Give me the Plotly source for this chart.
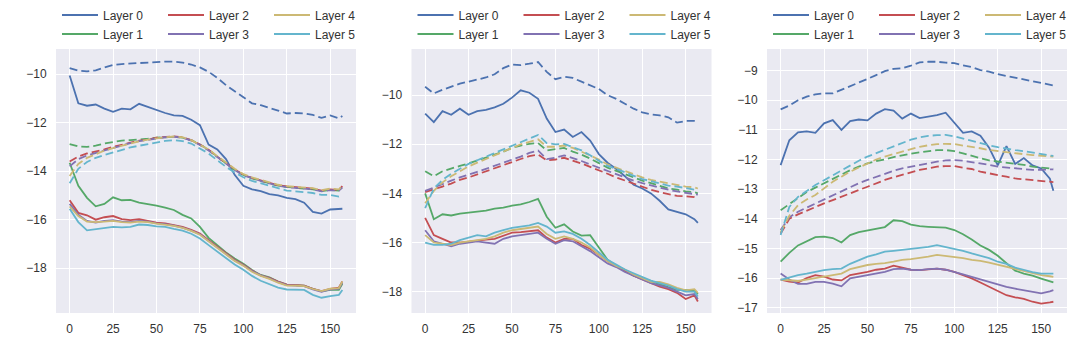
import plotly.graph_objects as go

# ---------------- data ----------------
steps = [0, 5, 10, 15, 20, 25, 30, 35, 40, 45, 50, 55, 60, 65, 70, 75, 80,
         85, 90, 95, 100, 105, 110, 115, 120, 125, 130, 135, 140, 145, 150, 155, 157]

layer_names = ["Layer 0", "Layer 1", "Layer 2", "Layer 3", "Layer 4", "Layer 5"]

# ---- panel 1 ----
p1_solid_l0 = [-10.05, -11.2, -11.3, -11.25, -11.42, -11.55, -11.42, -11.45, -11.22, -11.35, -11.45,
               -11.6, -11.7, -11.72, -11.88, -12.1, -12.9, -13.1, -13.5, -14.15, -14.6, -14.75,
               -14.82, -14.95, -15.0, -15.1, -15.15, -15.3, -15.68, -15.75, -15.58, -15.55, -15.55]
p1_solid_l1 = [-13.65, -14.6, -15.1, -15.45, -15.35, -15.08, -15.2, -15.18, -15.3, -15.35, -15.42,
               -15.5, -15.6, -15.8, -15.95, -16.3, -16.75, -17.05, -17.35, -17.6, -17.82, -18.08,
               -18.28, -18.38, -18.55, -18.68, -18.7, -18.72, -18.85, -18.96, -18.9, -18.9, -18.65]
p1_solid_l2 = [-15.2, -15.72, -15.82, -16.0, -15.9, -15.85, -15.98, -16.02, -15.98, -16.05, -16.12,
               -16.15, -16.22, -16.3, -16.42, -16.57, -16.85, -17.12, -17.4, -17.65, -17.86, -18.1,
               -18.3, -18.4, -18.55, -18.68, -18.7, -18.72, -18.85, -18.95, -18.85, -18.8, -18.55]
p1_solid_l3 = [-15.35, -15.8, -16.05, -16.12, -16.05, -16.02, -16.08, -16.1, -16.05, -16.08, -16.15,
               -16.18, -16.25, -16.33, -16.45, -16.6, -16.88, -17.15, -17.42, -17.68, -17.88, -18.12,
               -18.3, -18.42, -18.58, -18.7, -18.72, -18.74, -18.88, -18.98, -18.88, -18.85, -18.6]
p1_solid_l4 = [-15.45, -15.85, -16.08, -16.1, -16.08, -16.05, -16.1, -16.12, -16.08, -16.1, -16.16,
               -16.2, -16.26, -16.34, -16.46, -16.62, -16.9, -17.17, -17.44, -17.7, -17.9, -18.15,
               -18.32, -18.44, -18.6, -18.72, -18.72, -18.74, -18.86, -18.95, -18.85, -18.82, -18.55]
p1_solid_l5 = [-15.55, -16.1, -16.44, -16.4, -16.35, -16.3, -16.32, -16.3, -16.2, -16.22, -16.28,
               -16.3, -16.38, -16.45, -16.58, -16.78, -17.05, -17.32, -17.6, -17.85, -18.07, -18.32,
               -18.52, -18.65, -18.8, -18.88, -18.9, -18.9, -19.1, -19.22, -19.15, -19.1, -18.9]
p1_dash_l0 = [-9.75, -9.85, -9.88, -9.84, -9.72, -9.62, -9.58, -9.56, -9.52, -9.5, -9.48,
              -9.48, -9.48, -9.52, -9.6, -9.72, -9.9, -10.15, -10.45, -10.7, -10.95, -11.2,
              -11.28, -11.38, -11.5, -11.62, -11.6, -11.62, -11.68, -11.8, -11.7, -11.82, -11.72]
p1_dash_l1 = [-12.88, -12.98, -13.0, -12.95, -12.86, -12.8, -12.74, -12.72, -12.7, -12.66, -12.62,
              -12.6, -12.58, -12.62, -12.72, -12.9, -13.12, -13.4, -13.68, -13.95, -14.15, -14.3,
              -14.4, -14.5, -14.6, -14.65, -14.68, -14.7, -14.75, -14.82, -14.78, -14.8, -14.7]
p1_dash_l2 = [-13.6, -13.4, -13.27, -13.2, -13.1, -13.0, -12.9, -12.82, -12.74, -12.7, -12.62,
              -12.58, -12.56, -12.6, -12.72, -12.9, -13.12, -13.4, -13.68, -13.92, -14.15, -14.28,
              -14.38, -14.48, -14.58, -14.63, -14.66, -14.68, -14.72, -14.8, -14.75, -14.78, -14.62]
p1_dash_l3 = [-13.8, -13.5, -13.35, -13.25, -13.12, -13.02, -12.92, -12.84, -12.76, -12.7, -12.64,
              -12.6, -12.58, -12.62, -12.74, -12.92, -13.15, -13.42, -13.7, -13.95, -14.17, -14.3,
              -14.4, -14.5, -14.6, -14.66, -14.68, -14.72, -14.75, -14.83, -14.78, -14.8, -14.68]
p1_dash_l4 = [-14.2, -13.7, -13.45, -13.3, -13.15, -13.05, -12.95, -12.85, -12.77, -12.7, -12.64,
              -12.6, -12.57, -12.6, -12.72, -12.9, -13.1, -13.38, -13.65, -13.9, -14.12, -14.26,
              -14.36, -14.46, -14.56, -14.62, -14.64, -14.66, -14.7, -14.78, -14.72, -14.75, -14.6]
p1_dash_l5 = [-14.5, -13.9, -13.62, -13.45, -13.33, -13.22, -13.12, -13.02, -12.95, -12.88, -12.8,
              -12.75, -12.72, -12.76, -12.86, -13.05, -13.27, -13.55, -13.82, -14.05, -14.25, -14.4,
              -14.5, -14.62, -14.72, -14.8, -14.83, -14.86, -14.9, -14.98, -14.98, -15.05, -15.0]

# ---- panel 2 ----
p2_solid_l0 = [-10.75, -11.1, -10.65, -10.8, -10.55, -10.8, -10.65, -10.6, -10.5, -10.35, -10.1,
               -9.8, -9.9, -10.15, -10.95, -11.5, -11.4, -11.7, -11.5, -11.85, -12.4, -12.75,
               -13.0, -13.3, -13.65, -13.8, -14.0, -14.3, -14.65, -14.75, -14.85, -15.05, -15.2]
p2_solid_l1 = [-14.0, -15.05, -14.85, -14.9, -14.82, -14.78, -14.72, -14.7, -14.62, -14.58, -14.5,
               -14.45, -14.35, -14.22, -14.95, -15.4, -15.26, -15.55, -15.72, -15.7, -16.2, -16.7,
               -16.95, -17.15, -17.35, -17.45, -17.58, -17.68, -17.82, -17.93, -17.95, -17.95, -18.1]
p2_solid_l2 = [-15.0, -15.7, -15.85, -16.0, -16.0, -15.95, -15.92, -15.88, -15.85, -15.72, -15.6,
               -15.58, -15.55, -15.5, -15.8, -16.0, -15.85, -15.85, -16.1, -16.25, -16.5, -16.75,
               -16.95, -17.15, -17.35, -17.5, -17.65, -17.8, -17.9, -18.05, -18.3, -18.15, -18.4]
p2_solid_l3 = [-15.5, -15.95, -16.05, -16.15, -16.05, -16.0, -15.95, -16.0, -16.05, -15.85, -15.75,
               -15.7, -15.65, -15.6, -15.85, -16.05, -15.9, -15.95, -16.15, -16.35, -16.6, -16.85,
               -17.0, -17.2, -17.35, -17.5, -17.65, -17.75, -17.85, -18.0, -18.15, -18.1, -18.3]
p2_solid_l4 = [-15.7, -16.0, -16.05, -16.1, -16.0, -15.95, -15.9, -15.85, -15.75, -15.6, -15.5,
               -15.45, -15.4, -15.35, -15.65, -15.85, -15.75, -15.85, -16.0, -16.2, -16.5, -16.75,
               -16.95, -17.1, -17.3, -17.45, -17.6, -17.6, -17.7, -17.85, -17.95, -17.9, -18.05]
p2_solid_l5 = [-16.0, -16.1, -16.1, -16.05, -15.9, -15.8, -15.7, -15.75, -15.6, -15.5, -15.4,
               -15.35, -15.3, -15.2, -15.35, -15.6, -15.55, -15.65, -15.85, -16.1, -16.4, -16.7,
               -16.9, -17.1, -17.25, -17.4, -17.55, -17.65, -17.75, -17.9, -18.0, -18.0, -18.2]
p2_dash_l0 = [-9.66, -9.93, -9.78, -9.65, -9.53, -9.45, -9.38, -9.28, -9.15, -8.9, -8.75,
              -8.78, -8.72, -8.65, -9.05, -9.35, -9.25, -9.3, -9.45, -9.6, -9.75, -10.0,
              -10.15, -10.35, -10.55, -10.7, -10.78, -10.82, -10.9, -11.12, -11.05, -11.05, -11.08]
p2_dash_l1 = [-13.1, -13.3, -13.1, -12.98, -12.88, -12.78, -12.65, -12.55, -12.42, -12.3, -12.15,
              -12.05, -11.98, -11.95, -12.25, -12.2, -12.15, -12.3, -12.42, -12.58, -12.75, -12.95,
              -13.08, -13.22, -13.35, -13.48, -13.58, -13.68, -13.8, -13.85, -13.92, -13.95, -14.0]
p2_dash_l2 = [-13.95, -13.85, -13.72, -13.6, -13.45, -13.35, -13.22, -13.1, -12.98, -12.85, -12.72,
              -12.6, -12.48, -12.42, -12.65, -12.62, -12.55, -12.65, -12.78, -12.92, -13.05, -13.2,
              -13.35, -13.48, -13.62, -13.75, -13.85, -13.95, -14.02, -14.1, -14.12, -14.15, -14.2]
p2_dash_l3 = [-13.9, -13.75, -13.6, -13.48, -13.35, -13.25, -13.12, -13.0, -12.88, -12.75, -12.62,
              -12.5, -12.35, -12.25, -12.6, -12.55, -12.45, -12.55, -12.68, -12.82, -12.95, -13.1,
              -13.22, -13.35, -13.48, -13.58, -13.68, -13.78, -13.85, -13.92, -13.98, -14.02, -14.05]
p2_dash_l4 = [-14.4, -13.9, -13.55, -13.3, -13.1, -12.9, -12.75, -12.6, -12.45, -12.3, -12.15,
              -12.0, -11.9, -11.8, -12.1, -12.1, -12.05, -12.15, -12.3, -12.45, -12.62, -12.82,
              -12.95, -13.1, -13.22, -13.35, -13.45, -13.52, -13.6, -13.65, -13.72, -13.75, -13.8]
p2_dash_l5 = [-14.6, -13.8, -13.45, -13.2, -13.0, -12.8, -12.65, -12.5, -12.35, -12.2, -12.05,
              -11.9, -11.75, -11.62, -11.95, -12.0, -11.98, -12.1, -12.25, -12.45, -12.65, -12.88,
              -13.0, -13.15, -13.3, -13.42, -13.5, -13.58, -13.68, -13.72, -13.78, -13.85, -13.9]

# ---- panel 3 ----
p3_solid_l0 = [-12.19, -11.35, -11.08, -11.05, -11.1, -10.78, -10.67, -11.0, -10.7, -10.65, -10.68,
               -10.45, -10.3, -10.35, -10.62, -10.45, -10.6, -10.55, -10.5, -10.42, -10.75, -11.1,
               -11.05, -11.2, -11.6, -12.2, -11.55, -12.15, -11.95, -12.2, -12.3, -12.65, -13.05]
p3_solid_l1 = [-15.45, -15.15, -14.9, -14.75, -14.62, -14.6, -14.65, -14.8, -14.55, -14.45, -14.4,
               -14.35, -14.28, -14.05, -14.08, -14.2, -14.25, -14.27, -14.28, -14.3, -14.38, -14.52,
               -14.7, -14.9, -15.05, -15.25, -15.5, -15.75, -15.85, -15.92, -16.02, -16.1, -16.15]
p3_solid_l2 = [-16.05, -16.12, -16.15, -16.0, -15.9, -15.95, -16.05, -16.08, -15.9, -15.85, -15.79,
               -15.72, -15.68, -15.58, -15.65, -15.72, -15.73, -15.7, -15.68, -15.72, -15.79, -15.9,
               -16.01, -16.15, -16.3, -16.45, -16.58, -16.65, -16.7, -16.8, -16.86, -16.82, -16.8]
p3_solid_l3 = [-15.85, -16.05, -16.2, -16.2, -16.13, -16.13, -16.19, -16.28, -16.01, -15.95, -15.9,
               -15.85, -15.79, -15.7, -15.68, -15.72, -15.73, -15.7, -15.68, -15.72, -15.79, -15.88,
               -15.96, -16.05, -16.13, -16.22, -16.3, -16.36, -16.41, -16.48, -16.52, -16.45, -16.41]
p3_solid_l4 = [-16.05, -16.08, -16.1, -16.05, -16.0, -15.95, -15.9, -15.85, -15.7, -15.62, -15.56,
               -15.52, -15.5, -15.45, -15.39, -15.36, -15.33, -15.28, -15.22, -15.25, -15.28, -15.33,
               -15.39, -15.42, -15.48, -15.55, -15.62, -15.7, -15.78, -15.85, -15.9, -15.94, -15.96]
p3_solid_l5 = [-16.06, -15.98, -15.9, -15.85, -15.78, -15.73, -15.7, -15.68, -15.52, -15.4, -15.28,
               -15.2, -15.11, -15.08, -15.05, -15.02, -15.0, -14.95, -14.89, -14.95, -15.0, -15.08,
               -15.17, -15.25, -15.33, -15.45, -15.52, -15.65, -15.73, -15.8, -15.85, -15.86, -15.85]
p3_dash_l0 = [-10.31, -10.18, -10.0, -9.88, -9.8, -9.77, -9.77, -9.65, -9.54, -9.4, -9.28,
              -9.15, -9.02, -8.94, -8.92, -8.83, -8.72, -8.7, -8.7, -8.73, -8.75, -8.82,
              -8.88, -8.98, -9.03, -9.12, -9.18, -9.25, -9.3, -9.37, -9.42, -9.48, -9.5]
p3_dash_l1 = [-13.71, -13.5, -13.3, -13.1, -12.95, -12.8, -12.64, -12.5, -12.36, -12.24, -12.13,
              -12.05, -12.0, -11.92, -11.85, -11.8, -11.76, -11.72, -11.68, -11.68, -11.72, -11.79,
              -11.88, -11.96, -12.03, -12.07, -12.1, -12.13, -12.18, -12.24, -12.28, -12.3, -12.3]
p3_dash_l2 = [-14.5, -14.0, -13.85, -13.72, -13.59, -13.48, -13.37, -13.25, -13.14, -13.03, -12.92,
              -12.8, -12.69, -12.6, -12.52, -12.44, -12.35, -12.3, -12.24, -12.22, -12.22, -12.28,
              -12.32, -12.41, -12.46, -12.52, -12.58, -12.64, -12.67, -12.69, -12.72, -12.75, -12.76]
p3_dash_l3 = [-14.38, -13.95, -13.76, -13.62, -13.48, -13.34, -13.2, -13.06, -12.92, -12.8, -12.69,
              -12.58, -12.47, -12.38, -12.3, -12.24, -12.19, -12.12, -12.07, -12.03, -12.02, -12.04,
              -12.08, -12.13, -12.18, -12.24, -12.27, -12.3, -12.32, -12.35, -12.35, -12.33, -12.33]
p3_dash_l4 = [-14.45, -13.9, -13.54, -13.35, -13.2, -12.98, -12.75, -12.58, -12.41, -12.27, -12.13,
              -12.0, -11.9, -11.82, -11.74, -11.65, -11.57, -11.52, -11.48, -11.47, -11.48, -11.53,
              -11.57, -11.62, -11.68, -11.72, -11.76, -11.79, -11.82, -11.85, -11.88, -11.9, -11.9]
p3_dash_l5 = [-14.55, -13.6, -13.26, -13.05, -12.86, -12.7, -12.53, -12.36, -12.19, -12.04, -11.9,
              -11.79, -11.68, -11.56, -11.45, -11.33, -11.25, -11.2, -11.18, -11.17, -11.22, -11.3,
              -11.38, -11.45, -11.52, -11.58, -11.64, -11.68, -11.72, -11.76, -11.8, -11.85, -11.88]

panels = [
    dict(solid=[p1_solid_l0, p1_solid_l1, p1_solid_l2, p1_solid_l3, p1_solid_l4, p1_solid_l5],
         dash=[p1_dash_l0, p1_dash_l1, p1_dash_l2, p1_dash_l3, p1_dash_l4, p1_dash_l5],
         yrange=[-19.85, -8.96], ytick=[-18, -16, -14, -12, -10]),
    dict(solid=[p2_solid_l0, p2_solid_l1, p2_solid_l2, p2_solid_l3, p2_solid_l4, p2_solid_l5],
         dash=[p2_dash_l0, p2_dash_l1, p2_dash_l2, p2_dash_l3, p2_dash_l4, p2_dash_l5],
         yrange=[-18.87, -8.12], ytick=[-18, -16, -14, -12, -10]),
    dict(solid=[p3_solid_l0, p3_solid_l1, p3_solid_l2, p3_solid_l3, p3_solid_l4, p3_solid_l5],
         dash=[p3_dash_l0, p3_dash_l1, p3_dash_l2, p3_dash_l3, p3_dash_l4, p3_dash_l5],
         yrange=[-17.18, -8.27], ytick=[-17, -16, -15, -14, -13, -12, -11, -10, -9]),
]

x_ticks = [0, 25, 50, 75, 100, 125, 150]

# ---------------- style ----------------
colors = ["#4C72B0", "#55A868", "#C44E52", "#8172B2", "#CCB974", "#64B5CD"]
W, H = 1080, 348
axis_left_px = [56, 411.5, 767]
axis_w_px = 300
plot_top_px, plot_bot_px = 49, 313
font_family = "Liberation Sans, Arial, sans-serif"
text_color = "#333333"

fig = go.Figure()
layout = dict(
    width=W, height=H,
    margin=dict(l=0, r=0, t=0, b=0, autoexpand=False),
    paper_bgcolor="white", plot_bgcolor="#EAEAF2",
    font=dict(family=font_family, size=12, color=text_color),
    showlegend=True,
)

for pi, panel in enumerate(panels):
    ax = "" if pi == 0 else str(pi + 1)
    xa, ya = "x" + ax, "y" + ax
    x0 = axis_left_px[pi] / W
    x1 = (axis_left_px[pi] + axis_w_px) / W
    layout["xaxis" + ax] = dict(
        domain=[x0, x1], anchor=ya, range=[-7.85, 164.85],
        tickvals=x_ticks, showgrid=True, gridcolor="white", gridwidth=1.2,
        zeroline=False, showline=False, ticks="outside", ticklen=5,
        tickcolor="rgba(0,0,0,0)", automargin=False,
        tickfont=dict(size=12, color=text_color),
    )
    layout["yaxis" + ax] = dict(
        domain=[(H - plot_bot_px) / H, (H - plot_top_px) / H], anchor=xa,
        range=panel["yrange"], tickvals=panel["ytick"], showgrid=True,
        gridcolor="white", gridwidth=1.2, zeroline=False, showline=False,
        ticks="outside", ticklen=6, tickcolor="rgba(0,0,0,0)", automargin=False,
        tickfont=dict(size=12, color=text_color),
    )
    for li in range(6):
        col = li // 2
        leg_idx = 3 * pi + col + 1
        leg_name = "legend" if leg_idx == 1 else f"legend{leg_idx}"
        fig.add_trace(go.Scatter(
            x=steps, y=panel["solid"][li], mode="lines", name=layer_names[li],
            line=dict(color=colors[li], width=1.8), xaxis=xa, yaxis=ya,
            legend=leg_name, showlegend=True, legendrank=li,
        ))
    for li in range(6):
        fig.add_trace(go.Scatter(
            x=steps, y=panel["dash"][li], mode="lines", name=layer_names[li],
            line=dict(color=colors[li], width=1.8, dash="8px,4px"), xaxis=xa, yaxis=ya,
            showlegend=False,
        ))
    for col in range(3):
        leg_idx = 3 * pi + col + 1
        leg_name = "legend" if leg_idx == 1 else f"legend{leg_idx}"
        layout[leg_name] = dict(
            xref="container", yref="container",
            x=(axis_left_px[pi] + 1 + 106 * col) / W, xanchor="left",
            y=1 - 0.5 / H, yanchor="top",
            orientation="v", bgcolor="rgba(0,0,0,0)", borderwidth=0,
            font=dict(size=12, color=text_color, family=font_family),
            tracegroupgap=0, itemwidth=36,
        )

fig.update_layout(**layout)
fig.write_html("out.html")
